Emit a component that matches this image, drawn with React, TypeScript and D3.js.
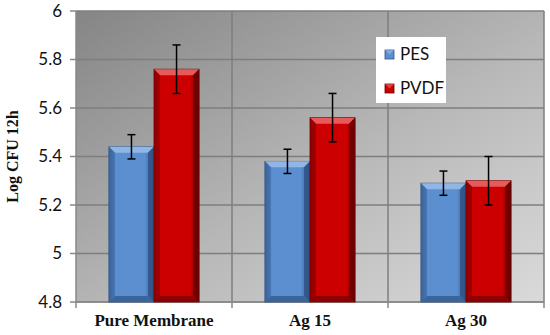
import * as d3 from "d3";

const categories = ["Pure Membrane", "Ag 15", "Ag 30"];
const series = ["PES", "PVDF"];
const pesValues = [5.44, 5.38, 5.29];
const pvdfValues = [5.76, 5.56, 5.3];
const pesErrors = [0.05, 0.05, 0.05];
const pvdfErrors = [0.1, 0.1, 0.1];
const yTicks = [4.8, 5, 5.2, 5.4, 5.6, 5.8, 6];

const W = 550;
const H = 335;
const left = 76;
const right = 544;
const top = 11;
const bottom = 302;

const colors = {
  PES: { base: "#5b8fd0", light: "#8fb6e6", dark: "#3a649c", edge: "#2f5386" },
  PVDF: { base: "#cc0000", light: "#e85a5a", dark: "#8c0000", edge: "#6a0000" },
};

function Bar({ x, y, w, h, s }: { x: number; y: number; w: number; h: number; s: "PES" | "PVDF" }) {
  const c = colors[s];
  const b = 6;
  return (
    <g>
      <rect x={x} y={y} width={w} height={h} fill={`url(#grad-${s})`} stroke={c.edge} strokeWidth={0.8} />
      {/* top bevel */}
      <polygon points={`${x},${y} ${x + w},${y} ${x + w - b},${y + b} ${x + b},${y + b}`} fill={c.light} />
      {/* left bevel */}
      <polygon points={`${x},${y} ${x + b},${y + b} ${x + b},${y + h - b} ${x},${y + h}`} fill={c.dark} opacity={0.55} />
      {/* right bevel */}
      <polygon points={`${x + w},${y} ${x + w - b},${y + b} ${x + w - b},${y + h - b} ${x + w},${y + h}`} fill={c.edge} opacity={0.8} />
      {/* bottom bevel */}
      <polygon points={`${x},${y + h} ${x + b},${y + h - b} ${x + w - b},${y + h - b} ${x + w},${y + h}`} fill={c.dark} />
    </g>
  );
}

export default function App() {
  const y = d3.scaleLinear().domain([4.8, 6]).range([bottom, top]);
  const x0 = d3.scaleBand().domain(categories).range([left, right]).paddingInner(0).paddingOuter(0);
  const x1 = d3.scaleBand().domain(series).range([0, x0.bandwidth()]).paddingOuter(0.73).paddingInner(0);
  const valuesBySeries: Record<string, number[]> = { PES: pesValues, PVDF: pvdfValues };
  const errorsBySeries: Record<string, number[]> = { PES: pesErrors, PVDF: pvdfErrors };

  return (
    <svg width={W} height={H} style={{ position: "absolute", left: 0, top: 0 }}>
      <defs>
        <linearGradient id="bg" x1="0" y1="0" x2="1" y2="1">
          <stop offset="0%" stopColor="#858585" />
          <stop offset="55%" stopColor="#b8b8b8" />
          <stop offset="100%" stopColor="#dadada" />
        </linearGradient>
        {series.map((s) => {
          const c = colors[s as "PES" | "PVDF"];
          return (
            <linearGradient key={s} id={`grad-${s}`} x1="0" y1="0" x2="1" y2="0">
              <stop offset="0%" stopColor={c.dark} />
              <stop offset="15%" stopColor={c.base} />
              <stop offset="80%" stopColor={c.base} />
              <stop offset="100%" stopColor={c.edge} />
            </linearGradient>
          );
        })}
      </defs>
      <rect x={0} y={0} width={W} height={H} fill="#fff" />
      <rect x={left} y={top} width={right - left} height={bottom - top} fill="url(#bg)" />
      {/* horizontal gridlines */}
      {yTicks.map((t) => (
        <line key={t} x1={left} x2={right} y1={y(t)} y2={y(t)} stroke="#7e7e7e" strokeWidth={1.5} />
      ))}
      {/* vertical gridlines at category boundaries */}
      {categories.slice(1).map((c) => (
        <line key={c} x1={x0(c)!} x2={x0(c)!} y1={top} y2={bottom} stroke="#7e7e7e" strokeWidth={1.5} />
      ))}
      <line x1={right} x2={right} y1={top} y2={bottom} stroke="#7e7e7e" strokeWidth={1.5} />
      {/* axes */}
      <line x1={left} x2={left} y1={top} y2={bottom} stroke="#888" strokeWidth={1.5} />
      <line x1={left} x2={right} y1={bottom} y2={bottom} stroke="#888" strokeWidth={1.5} />
      {yTicks.map((t) => (
        <g key={"t" + t}>
          <line x1={left - 6} x2={left} y1={y(t)} y2={y(t)} stroke="#888" strokeWidth={1.5} />
          <text x={62} y={y(t)} dy="0.35em" textAnchor="end" fontFamily="Lato, sans-serif" fontSize={17} fill="#111">
            {d3.format("~g")(t)}
          </text>
        </g>
      ))}
      {[...categories.map((c) => x0(c)!), right].map((px, i) => (
        <line key={"bt" + i} x1={px} x2={px} y1={bottom} y2={bottom + 6} stroke="#888" strokeWidth={1.5} />
      ))}
      {/* bars */}
      {categories.map((c, i) =>
        series.map((s) => {
          const v = valuesBySeries[s][i];
          const e = errorsBySeries[s][i];
          const bx = x0(c)! + x1(s)!;
          const bw = x1.bandwidth();
          const cx = bx + bw / 2;
          return (
            <g key={c + s}>
              <Bar x={bx} y={y(v)} w={bw} h={bottom - y(v)} s={s as "PES" | "PVDF"} />
              <line x1={cx} x2={cx} y1={y(v + e)} y2={y(v - e)} stroke="#000" strokeWidth={1.5} />
              <line x1={cx - 4} x2={cx + 4} y1={y(v + e)} y2={y(v + e)} stroke="#000" strokeWidth={1.5} />
              <line x1={cx - 4} x2={cx + 4} y1={y(v - e)} y2={y(v - e)} stroke="#000" strokeWidth={1.5} />
            </g>
          );
        })
      )}
      {/* category labels */}
      {categories.map((c) => (
        <text key={"l" + c} x={x0(c)! + x0.bandwidth() / 2} y={326} textAnchor="middle" fontFamily="'Liberation Serif', serif" fontWeight="bold" fontSize={17} fill="#111">
          {c}
        </text>
      ))}
      {/* y axis title */}
      <text transform={`translate(18, ${(top + bottom) / 2}) rotate(-90)`} textAnchor="middle" fontFamily="'Liberation Serif', serif" fontWeight="bold" fontSize={16} fill="#111">
        Log CFU 12h
      </text>
      {/* legend */}
      <rect x={376} y={37} width={70} height={66} fill="#fff" />
      {series.map((s, i) => {
        const c = colors[s as "PES" | "PVDF"];
        const ly = 54 + i * 34;
        return (
          <g key={"lg" + s}>
            <rect x={385} y={ly - 4} width={9} height={9} fill={c.base} stroke={c.edge} strokeWidth={0.8} />
            <polygon points={`${385},${ly - 4} ${394},${ly - 4} ${389.5},${ly + 0.5}`} fill={c.light} opacity={0.7} />
            <text x={400} y={ly} dy="0.35em" fontFamily="Lato, sans-serif" fontSize={17} fill="#111">
              {s}
            </text>
          </g>
        );
      })}
    </svg>
  );
}
